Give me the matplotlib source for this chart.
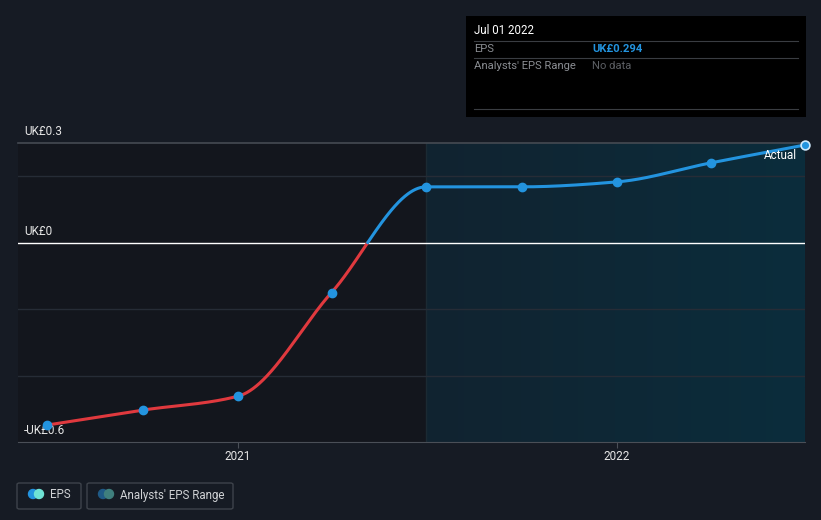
"""EPS history chart with dark theme, past vs. forecast regions."""

import numpy as np
import matplotlib
matplotlib.use("Agg")
import matplotlib.pyplot as plt
import matplotlib.dates as mdates
from matplotlib.patches import Rectangle, FancyBboxPatch, Ellipse
from matplotlib.colors import LinearSegmentedColormap
from datetime import datetime

# DATA
dates = ["2020-07-01", "2020-10-01", "2021-01-01", "2021-04-01", "2021-07-01",
         "2021-10-01", "2022-01-01", "2022-04-01", "2022-07-01"]
eps = [-0.549, -0.504, -0.462, -0.150, 0.168, 0.168, 0.183, 0.240, 0.294]
y_ticks = [0.3, 0.0, -0.6]
y_tick_labels = ["UK£0.3", "UK£0", "-UK£0.6"]
grid_levels = [0.2, -0.2, -0.4]
x_ticks = ["2021-01-01", "2022-01-01"]
x_tick_labels = ["2021", "2022"]
forecast_start = "2021-07-01"

BG = "#161b24"
PAST_BG = "#13161d"
BLUE = "#2394df"
RED = "#e0393e"
W, H = 821, 520


def pchip(x, y, xs):
    """Monotone cubic interpolation (Fritsch-Carlson)"""
    x = np.asarray(x, float)
    y = np.asarray(y, float)
    h = np.diff(x)
    d = np.diff(y) / h
    m = np.zeros_like(y)
    for k in range(1, len(y) - 1):
        if d[k - 1] * d[k] > 0:
            w1 = 2 * h[k] + h[k - 1]
            w2 = h[k] + 2 * h[k - 1]
            m[k] = (w1 + w2) / (w1 / d[k - 1] + w2 / d[k])
    m[0] = d[0]
    m[-1] = d[-1]
    idx = np.clip(np.searchsorted(x, xs) - 1, 0, len(h) - 1)
    t = (xs - x[idx]) / h[idx]
    h00 = 2 * t**3 - 3 * t**2 + 1
    h10 = t**3 - 2 * t**2 + t
    h01 = -2 * t**3 + 3 * t**2
    h11 = t**3 - t**2
    return (h00 * y[idx] + h10 * h[idx] * m[idx]
            + h01 * y[idx + 1] + h11 * h[idx] * m[idx + 1])


def px(x0, y0, w, h):
    """pixel box (top-left origin) -> figure fraction rect"""
    return (x0 / W, 1 - (y0 + h) / H, w / W, h / H)


def dot(x, y, r, color):
    """circle given in pixels, drawn in figure coords"""
    fig.patches.append(Ellipse((x / W, 1 - y / H), 2 * r / W, 2 * r / H,
                               transform=fig.transFigure, color=color))


plt.rcParams["font.family"] = ["Roboto", "DejaVu Sans"]
fig = plt.figure(figsize=(W / 100, H / 100), dpi=100, facecolor=BG)
ax = fig.add_axes(px(18, 143, 787, 299))
ax.set_facecolor(PAST_BG)

xd = mdates.date2num([datetime.fromisoformat(d) for d in dates])
x_lo = xd[0] - 28
x_hi = xd[-1]
ax.set_xlim(x_lo, x_hi)
ax.set_ylim(-0.6, 0.3)

# forecast region gradient
fs = mdates.date2num(datetime.fromisoformat(forecast_start))
cmap = LinearSegmentedColormap.from_list("fc", ["#112330", "#0b2d3c"])
ax.imshow(np.linspace(0, 1, 256).reshape(1, -1), cmap=cmap, aspect="auto",
          extent=(fs, x_hi, -0.6, 0.3), zorder=0)
ax.axvline(fs, color="#1b2a33", linewidth=1, zorder=1)

# grid
for g in grid_levels:
    ax.axhline(g, color="#262c36", linewidth=1, zorder=1)
ax.axhline(0.3, color="#454a52", linewidth=1.2, zorder=1, clip_on=False)
ax.axhline(0.0, color="#ffffff", linewidth=1, zorder=2)

for s in ax.spines.values():
    s.set_visible(False)
ax.spines["bottom"].set_visible(True)
ax.spines["bottom"].set_color("#4a4f57")

ax.set_yticks([])
xt = mdates.date2num([datetime.fromisoformat(d) for d in x_ticks])
ax.set_xticks(xt)
ax.set_xticklabels(x_tick_labels, fontsize=8.5)
ax.tick_params(axis="x", colors="#4a4f57", length=4, pad=2, labelcolor="#e6e6e6")

for v, lab in zip(y_ticks, y_tick_labels):
    ax.annotate(lab, xy=(0, v), xycoords=("axes fraction", "data"),
                xytext=(6, 5), textcoords="offset pixels",
                color="#e6e6e6", fontsize=8.5, va="bottom", ha="left")

# smooth line, red below zero, blue above
xs = np.linspace(xd[0], xd[-1], 1200)
ys = pchip(xd, eps, xs)
cross = np.where(np.diff(np.sign(ys)) != 0)[0]
if len(cross):
    i = cross[0]
    xc = xs[i] - ys[i] * (xs[i + 1] - xs[i]) / (ys[i + 1] - ys[i])
    ax.plot(np.r_[xs[:i + 1], xc], np.r_[ys[:i + 1], 0], color=RED,
            linewidth=2.2, zorder=3, solid_capstyle="round")
    ax.plot(np.r_[xc, xs[i + 1:]], np.r_[0, ys[i + 1:]], color=BLUE,
            linewidth=2.2, zorder=3, solid_capstyle="round", clip_on=False)
ax.scatter(xd[:-1], eps[:-1], s=36, color=BLUE, zorder=4, clip_on=False)
ax.scatter(xd[-1:], eps[-1:], s=40, color=BLUE, edgecolor="#cfe9fb",
           linewidth=1.2, zorder=5, clip_on=False)
ax.annotate("Actual", xy=(x_hi, eps[-1]), xytext=(-8, -4),
            textcoords="offset pixels", ha="right", va="top",
            color="#ffffff", fontsize=8.5)

# tooltip box
fig.patches.append(Rectangle(px(466, 16, 340, 101)[:2], 340 / W, 101 / H,
                             transform=fig.transFigure, facecolor="#000000",
                             edgecolor="none", zorder=10))
for yy in (41, 58, 109):
    fig.lines.append(plt.Line2D([474 / W, 798 / W], [1 - yy / H] * 2,
                                transform=fig.transFigure, color="#3a3d42",
                                linewidth=0.8, zorder=11))
fig.text(474 / W, 1 - 31 / H, "Jul 01 2022", color="#ffffff", fontsize=8.3,
         va="center", zorder=12)
fig.text(474 / W, 1 - 49 / H, "EPS", color="#8a8d92", fontsize=8.1,
         va="center", zorder=12)
fig.text(592 / W, 1 - 49 / H, f"UK£{eps[-1]:.3f}", color=BLUE, fontsize=8.1,
         fontweight="bold", va="center", zorder=12)
fig.text(474 / W, 1 - 66 / H, "Analysts' EPS Range", color="#8a8d92",
         fontsize=8.1, va="center", zorder=12)
fig.text(592 / W, 1 - 66 / H, "No data", color="#5c5f64", fontsize=8.1,
         va="center", zorder=12)

# legend
for (x0, wdt) in ((17, 64), (87, 146)):
    fig.patches.append(FancyBboxPatch((x0 / W, 1 - 509 / H), wdt / W, 26 / H,
                                      boxstyle="round,pad=0,rounding_size=0.003",
                                      transform=fig.transFigure,
                                      facecolor="none", edgecolor="#3e434b",
                                      linewidth=1))
dot(33, 494, 4.5, BLUE)
dot(39, 494, 4.5, "#6fe3d5")
dot(103, 494, 4.5, "#1f5a86")
dot(109, 494, 4.5, "#3f7f7d")
fig.text(50 / W, 1 - 495 / H, "EPS", color="#d0d2d5", fontsize=8.3, va="center")
fig.text(120 / W, 1 - 495 / H, "Analysts' EPS Range", color="#d0d2d5",
         fontsize=8.3, va="center")

fig.savefig("out.png", dpi=100, facecolor=BG)
